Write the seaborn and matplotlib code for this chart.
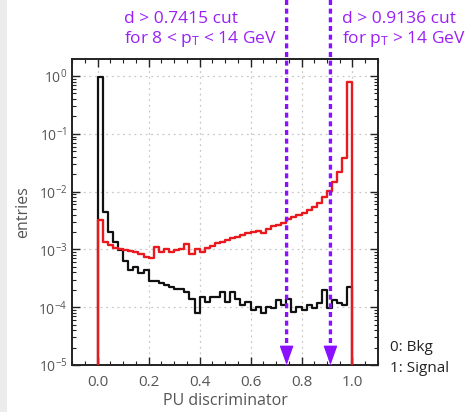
import numpy as np
import pandas as pd
import matplotlib
matplotlib.use("Agg")
import matplotlib.pyplot as plt
from matplotlib.patches import Rectangle
from matplotlib.ticker import MultipleLocator, LogLocator, NullFormatter, FormatStrFormatter
import seaborn as sns

# PU discriminator histograms, 50 bins on [0, 1], normalised entries
bin_edges = np.linspace(0.0, 1.0, 51)
bkg_entries = [
    0.97, 4.4e-3, 2.0e-3, 1.35e-3, 9.8e-4, 6.2e-4, 4.4e-4, 5.0e-4, 3.9e-4, 4.4e-4,
    2.8e-4, 2.8e-4, 2.6e-4, 2.4e-4, 2.25e-4, 2.05e-4, 2.1e-4, 1.85e-4, 1.38e-4, 7.8e-5,
    1.5e-4, 1.25e-4, 1.5e-4, 1.5e-4, 1.85e-4, 1.25e-4, 1.85e-4, 1.4e-4, 1.1e-4, 1.25e-4,
    8.9e-5, 1.02e-4, 7.8e-5, 1.02e-4, 9.6e-5, 1.33e-4, 1.1e-4, 1.4e-4, 8.3e-5, 1.02e-4,
    8.9e-5, 1.1e-4, 9.6e-5, 1.17e-4, 2.0e-4, 9.6e-5, 1.33e-4, 1.17e-4, 1.1e-4, 2.25e-4,
]
sig_entries = [
    3.2e-3, 1.35e-3, 1.18e-3, 1.05e-3, 1.0e-3, 9.8e-4, 9.4e-4, 8.9e-4, 8.3e-4, 7.5e-4,
    7.0e-4, 1.1e-3, 9.1e-4, 1.0e-3, 9.2e-4, 9.6e-4, 1.0e-3, 1.23e-3, 8.3e-4, 1.03e-3,
    8.9e-4, 1.05e-3, 1.15e-3, 1.28e-3, 1.35e-3, 1.45e-3, 1.6e-3, 1.66e-3, 1.78e-3, 1.9e-3,
    2.0e-3, 2.1e-3, 1.95e-3, 2.3e-3, 2.5e-3, 2.7e-3, 2.9e-3, 3.3e-3, 3.6e-3, 3.9e-3,
    4.3e-3, 4.9e-3, 5.5e-3, 6.4e-3, 8.1e-3, 1.04e-2, 1.48e-2, 2.2e-2, 3.9e-2, 0.80,
]
cut_values = [0.7415, 0.9136]
cut_labels = ["d > 0.7415 cut\nfor 8 < $\\mathregular{p_T}$ < 14 GeV",
              "d > 0.9136 cut\nfor $\\mathregular{p_T}$ > 14 GeV"]
class_labels = "0: Bkg\n1: Signal"
x_label = "PU discriminator"
y_label = "entries"

sns.set_style("ticks")
plt.rcParams["font.family"] = ["Open Sans", "DejaVu Sans"]
plt.rcParams["mathtext.default"] = "regular"

fig = plt.figure(figsize=(4.66, 4.12), dpi=100)
fig.patches.append(Rectangle((0, 0), 7 / 466, 1, transform=fig.transFigure,
                             facecolor="#ececec", edgecolor="none", zorder=-5))
ax = fig.add_axes([0.155, 0.114, 0.656, 0.742])

# one empty bin on each side so the outline drops down to the baseline
width = bin_edges[1] - bin_edges[0]
edges = np.concatenate([[bin_edges[0] - width], bin_edges, [bin_edges[-1] + width]]).tolist()
centers = 0.5 * (bin_edges[:-1] + bin_edges[1:])
df = pd.DataFrame({
    "d": np.concatenate([centers, centers]),
    "w": np.concatenate([bkg_entries, sig_entries]),
    "cls": ["0"] * len(centers) + ["1"] * len(centers),
})

sns.histplot(data=df[df.cls == "0"], x="d", weights="w", bins=edges, element="step",
             fill=False, color="#111111", linewidth=1.6, ax=ax, zorder=3)
sns.histplot(data=df[df.cls == "1"], x="d", weights="w", bins=edges, element="step",
             fill=False, color="#e8191f", linewidth=1.7, ax=ax, zorder=4)

ax.set_yscale("log")
ax.set_ylim(1e-5, 1.95)
ax.set_xlim(-0.1, 1.1)
ax.xaxis.set_major_locator(MultipleLocator(0.2))
ax.xaxis.set_minor_locator(MultipleLocator(0.05))
ax.yaxis.set_major_locator(LogLocator(base=10, numticks=10))
ax.yaxis.set_minor_locator(LogLocator(base=10, subs=np.arange(2, 10), numticks=20))
ax.yaxis.set_minor_formatter(NullFormatter())
ax.xaxis.set_major_formatter(FormatStrFormatter("%.1f"))

ax.grid(True, which="major", linestyle=(0, (1.5, 3)), color="#c8c8c8", linewidth=0.9)
ax.tick_params(which="both", direction="in", top=True, right=True, color="#222222")
ax.tick_params(which="major", length=6, width=1.0, labelsize=10, labelcolor="#555555")
ax.tick_params(which="minor", length=3, width=0.8)
ax.tick_params(axis="x", labelsize=11, pad=7)
for s in ax.spines.values():
    s.set_linewidth(1.4)
    s.set_color("#222222")

ax.set_xlabel(x_label, fontsize=11.5, color="#555555", labelpad=2)
ax.set_ylabel(y_label, fontsize=11.5, color="#555555", labelpad=5)

# cut markers: dashed shaft from the top of the figure, solid head at the axis floor
arrow_color = "#8a10ff"
purple = "#9b1ff5"
for xc in cut_values:
    ax.annotate("", xy=(xc, 1e-5), xycoords="data",
                xytext=(xc, 1.0), textcoords=("data", "figure fraction"),
                arrowprops=dict(arrowstyle="-", linestyle=(0, (1.5, 1.1)), linewidth=2.4,
                                color=arrow_color, capstyle="butt",
                                shrinkA=0, shrinkB=0),
                annotation_clip=False, zorder=6)
    ax.annotate("", xy=(xc, 1e-5), xycoords="data",
                xytext=(0, 12), textcoords="offset points",
                arrowprops=dict(arrowstyle="-|>,head_length=1.0,head_width=0.36",
                                linewidth=1.0, color=arrow_color, mutation_scale=12,
                                shrinkA=0, shrinkB=0),
                annotation_clip=False, zorder=7)

fig.text(277 / 466, 1 - 11 / 412, cut_labels[0], ha="right", va="top", multialignment="left",
         fontsize=12.5, color=purple, linespacing=1.15)
fig.text(342 / 466, 1 - 11 / 412, cut_labels[1], ha="left", va="top",
         fontsize=12.5, color=purple, linespacing=1.15)
fig.text(390 / 466, 1 - 340 / 412, class_labels, ha="left", va="top",
         fontsize=11, color="#222222", linespacing=1.55)

fig.savefig("out.png", dpi=100)
